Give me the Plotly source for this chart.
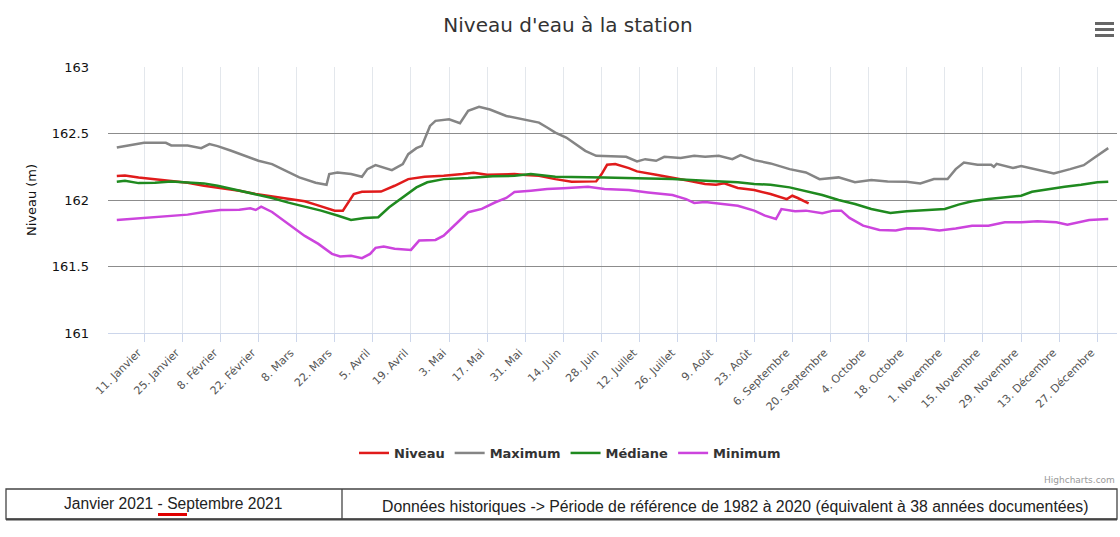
import plotly.graph_objects as go
import pandas as pd

# ---------------- data (day of year 2021 -> water level, m) ----------------
niveau_days = [0, 3, 8, 14, 20, 26, 32, 38, 45, 51, 57, 63, 69, 73, 76, 80, 83, 87, 90, 97,
               102, 107, 113, 120, 127, 131, 136, 142, 146, 150, 155, 161, 167, 176, 178, 180,
               183, 188, 191, 198, 204, 210, 216, 220, 223, 228, 234, 240, 246, 248, 250, 254]
niveau_vals = [162.18, 162.185, 162.17, 162.157, 162.145, 162.13, 162.107, 162.088, 162.07, 162.045,
               162.027, 162.007, 161.99, 161.965, 161.945, 161.92, 161.92, 162.045, 162.062, 162.063,
               162.107, 162.157, 162.175, 162.182, 162.195, 162.205, 162.19, 162.19, 162.195, 162.188,
               162.182, 162.157, 162.137, 162.14, 162.195, 162.265, 162.27, 162.24, 162.215, 162.19,
               162.17, 162.145, 162.12, 162.115, 162.125, 162.09, 162.075, 162.045, 162.007, 162.032,
               162.015, 161.975]

maximum_days = [0, 10, 18, 20, 26, 31, 34, 37, 42, 47, 52, 57, 62, 67, 73, 77, 78, 81, 86, 90,
                92, 95, 101, 105, 107, 110, 112, 115, 117, 122, 126, 129, 133, 137, 143, 149, 155,
                158, 161, 165, 172, 176, 182, 187, 191, 194, 198, 201, 207, 212, 216, 221, 226, 229,
                234, 240, 247, 253, 258, 265, 271, 277, 283, 290, 295, 300, 305, 308, 311, 316, 321,
                322, 323, 329, 332, 338, 344, 350, 355, 359, 364]
maximum_vals = [162.395, 162.43, 162.43, 162.41, 162.41, 162.39, 162.42, 162.405, 162.37, 162.33,
                162.295, 162.27, 162.22, 162.17, 162.13, 162.115, 162.195, 162.207, 162.195, 162.175,
                162.232, 162.262, 162.225, 162.27, 162.345, 162.39, 162.407, 162.557, 162.595, 162.607,
                162.577, 162.67, 162.70, 162.68, 162.632, 162.607, 162.582, 162.545, 162.507, 162.47,
                162.37, 162.332, 162.33, 162.325, 162.29, 162.307, 162.295, 162.325, 162.315, 162.332,
                162.325, 162.332, 162.307, 162.337, 162.30, 162.275, 162.232, 162.207, 162.157, 162.17,
                162.133, 162.15, 162.14, 162.137, 162.125, 162.157, 162.157, 162.232, 162.282, 162.265,
                162.265, 162.25, 162.272, 162.24, 162.255, 162.225, 162.2, 162.232, 162.262, 162.32,
                162.39]

mediane_days = [0, 3, 8, 14, 20, 26, 32, 37, 45, 51, 57, 63, 69, 73, 75, 81, 86, 91, 96, 100,
                105, 110, 114, 120, 129, 138, 146, 152, 161, 173, 179, 191, 204, 216, 223, 228, 234,
                240, 247, 253, 259, 265, 271, 277, 284, 290, 296, 304, 309, 314, 320, 326, 332, 336,
                342, 348, 354, 360, 364]
mediane_vals = [162.137, 162.145, 162.127, 162.13, 162.14, 162.13, 162.125, 162.107, 162.07, 162.045,
                162.015, 161.98, 161.95, 161.93, 161.92, 161.883, 161.85, 161.865, 161.87, 161.945,
                162.02, 162.095, 162.133, 162.157, 162.165, 162.178, 162.182, 162.195, 162.175, 162.175,
                162.17, 162.163, 162.157, 162.145, 162.14, 162.133, 162.12, 162.115, 162.095, 162.065,
                162.037, 162.0, 161.97, 161.932, 161.903, 161.915, 161.92, 161.932, 161.965, 161.99,
                162.007, 162.02, 162.032, 162.062, 162.082, 162.1, 162.115, 162.133, 162.137]

minimum_days = [0, 10, 20, 26, 32, 38, 45, 49, 51, 53, 57, 63, 69, 74, 79, 82, 86, 90, 93, 95,
                98, 102, 108, 111, 117, 120, 125, 129, 134, 139, 143, 146, 152, 158, 164, 173, 179,
                188, 195, 204, 209, 212, 216, 222, 228, 234, 238, 242, 244, 249, 253, 259, 263, 266,
                269, 274, 280, 286, 290, 296, 302, 308, 314, 320, 326, 332, 338, 345, 349, 357, 364]
minimum_vals = [161.85, 161.865, 161.88, 161.89, 161.91, 161.925, 161.927, 161.937, 161.925, 161.95,
                161.91, 161.82, 161.73, 161.67, 161.595, 161.575, 161.58, 161.563, 161.595, 161.64,
                161.65, 161.633, 161.625, 161.695, 161.70, 161.732, 161.833, 161.908, 161.933, 161.983,
                162.015, 162.06, 162.07, 162.082, 162.088, 162.1, 162.082, 162.075, 162.057, 162.037,
                162.007, 161.978, 161.985, 161.97, 161.957, 161.92, 161.882, 161.857, 161.932, 161.915,
                161.92, 161.90, 161.92, 161.92, 161.865, 161.807, 161.775, 161.77, 161.787, 161.785,
                161.77, 161.785, 161.807, 161.807, 161.833, 161.833, 161.84, 161.833, 161.815, 161.85,
                161.857]

tick_dates = ["2021-01-11", "2021-01-25", "2021-02-08", "2021-02-22", "2021-03-08", "2021-03-22",
              "2021-04-05", "2021-04-19", "2021-05-03", "2021-05-17", "2021-05-31", "2021-06-14",
              "2021-06-28", "2021-07-12", "2021-07-26", "2021-08-09", "2021-08-23", "2021-09-06",
              "2021-09-20", "2021-10-04", "2021-10-18", "2021-11-01", "2021-11-15", "2021-11-29",
              "2021-12-13", "2021-12-27"]
tick_labels = ["11. Janvier", "25. Janvier", "8. Février", "22. Février", "8. Mars", "22. Mars",
               "5. Avril", "19. Avril", "3. Mai", "17. Mai", "31. Mai", "14. Juin", "28. Juin",
               "12. Juillet", "26. Juillet", "9. Août", "23. Août", "6. Septembre", "20. Septembre",
               "4. Octobre", "18. Octobre", "1. Novembre", "15. Novembre", "29. Novembre",
               "13. Décembre", "27. Décembre"]

y_ticks = [161, 161.5, 162, 162.5, 163]
y_labels = ["161", "161.5", "162", "162.5", "163"]

# ---------------- helpers ----------------
start = pd.Timestamp("2021-01-01")


def to_dates(days):
    return [start + pd.Timedelta(days=d) for d in days]


W_FIG, H_FIG = 1120, 537
L, R, T, B = 108, 1117, 67, 333


def px(x):
    return (x - L) / (R - L)


def py(y):
    return (B - y) / (B - T)


FONT = "DejaVu Sans"

series = [
    ("Niveau", niveau_days, niveau_vals, "#e01b1b"),
    ("Maximum", maximum_days, maximum_vals, "#858585"),
    ("Médiane", mediane_days, mediane_vals, "#1f8a1f"),
    ("Minimum", minimum_days, minimum_vals, "#cc44dd"),
]

fig = go.Figure()
for name, days, vals, color in series:
    fig.add_trace(go.Scatter(x=to_dates(days), y=vals, name=name, mode="lines",
                             line=dict(color=color, width=2.5)))

fig.update_layout(
    width=W_FIG, height=H_FIG, autosize=False,
    margin=dict(l=L, r=W_FIG - R, t=T, b=H_FIG - B),
    paper_bgcolor="white", plot_bgcolor="white",
    font=dict(family=FONT, color="#333"),
    title=dict(text="Niveau d'eau à la station", x=568 / W_FIG, xanchor="center",
               y=1 - 25 / H_FIG, yanchor="middle",
               font=dict(family=FONT, size=20, color="#333")),
    legend=dict(orientation="h", x=px(570), xanchor="center", y=py(453), yanchor="middle",
                font=dict(family=FONT, size=13, color="#333", weight="bold"),
                itemwidth=30, tracegroupgap=0),
    showlegend=True,
)

fig.update_xaxes(
    type="date",
    range=["2020-12-28 18:30", "2022-01-03 05:00"],
    tickmode="array", tickvals=tick_dates, ticktext=tick_labels,
    tickangle=-45, tickfont=dict(family=FONT, size=11, color="#555"),
    ticklabelshift=-6,
    showgrid=True, gridcolor="#e3e7ec", gridwidth=1,
    showline=True, linecolor="#ccd6eb", linewidth=1,
    ticks="outside", ticklen=8, tickcolor="#ccd6eb",
    zeroline=False,
)
fig.update_yaxes(
    range=[161, 163], tickmode="array", tickvals=y_ticks, ticktext=y_labels,
    tickfont=dict(family=FONT, size=13, color="#111"),
    showgrid=True, gridcolor="#8c8c8c", gridwidth=1,
    zeroline=False, showline=False, ticks="", ticklabelstandoff=18,
    title=dict(text="Niveau (m)", font=dict(family=FONT, size=13, color="#111"), standoff=12),
)

shapes = []
# hamburger menu icon
for yy in (23.5, 29.5, 35.5):
    shapes.append(dict(type="line", xref="paper", yref="paper",
                       x0=px(1095), x1=px(1114), y0=py(yy), y1=py(yy),
                       line=dict(color="#666", width=3)))
# info table below the chart
shapes.append(dict(type="rect", xref="paper", yref="paper",
                   x0=px(6), x1=px(1117), y0=py(519), y1=py(489),
                   line=dict(color="#444", width=1.3)))
shapes.append(dict(type="line", xref="paper", yref="paper",
                   x0=px(6), x1=px(1117), y0=py(519.5), y1=py(519.5),
                   line=dict(color="#444", width=2)))
shapes.append(dict(type="line", xref="paper", yref="paper",
                   x0=px(342), x1=px(342), y0=py(519), y1=py(489),
                   line=dict(color="#444", width=1.3)))
shapes.append(dict(type="line", xref="paper", yref="paper",
                   x0=px(158), x1=px(187), y0=py(514.5), y1=py(514.5),
                   line=dict(color="#e00000", width=3)))
fig.update_layout(shapes=shapes)

TABLE_FONT = "Liberation Sans Narrow, Liberation Sans, Arial"
fig.add_annotation(text="Janvier 2021 - Septembre 2021", xref="paper", yref="paper",
                   x=px(173), y=py(503), xanchor="center", yanchor="middle", showarrow=False,
                   font=dict(family=TABLE_FONT, size=15.6, color="#222"))
fig.add_annotation(text="Données historiques -> Période de référence de 1982 à 2020 "
                        "(équivalent à 38 années documentées)",
                   xref="paper", yref="paper",
                   x=px(735), y=py(506), xanchor="center", yanchor="middle", showarrow=False,
                   font=dict(family=TABLE_FONT, size=15.8, color="#222"))
fig.add_annotation(text="Highcharts.com", xref="paper", yref="paper",
                   x=px(1117), y=py(480), xanchor="right", yanchor="middle", showarrow=False,
                   font=dict(family=FONT, size=9, color="#999"))

fig.write_html("out.html",
               config={"displayModeBar": False},
               post_script="document.body.style.margin='0px';"
                           "document.body.style.overflow='hidden';")
